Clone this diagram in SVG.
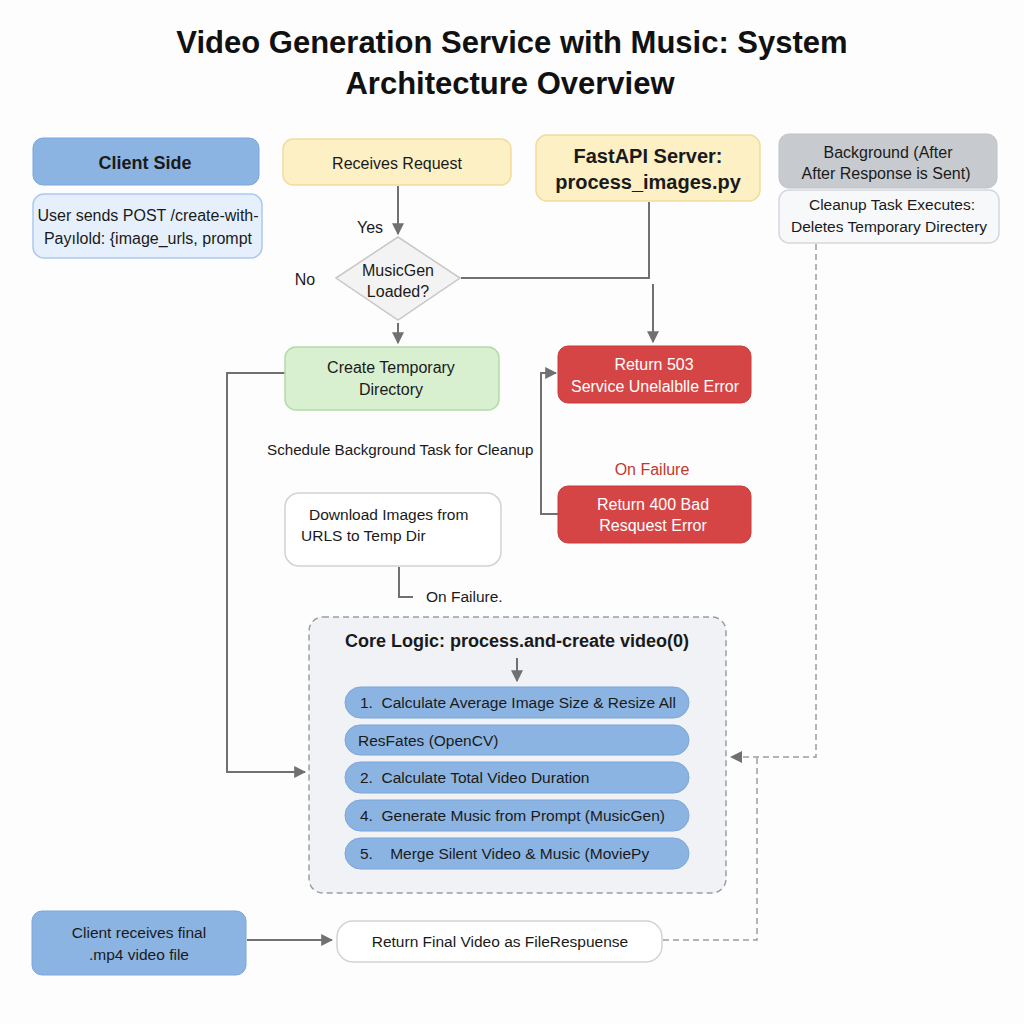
<svg xmlns="http://www.w3.org/2000/svg" width="1024" height="1024" viewBox="0 0 1024 1024">
<defs>
<marker id="ahb" viewBox="0 0 10 10" refX="9" refY="5" markerWidth="12" markerHeight="12" orient="auto" markerUnits="userSpaceOnUse">
<path d="M0,0 L10,5 L0,10 z" fill="#707070"/>
</marker>
</defs>
<style>
text{font-family:"Liberation Sans",Arial,sans-serif;fill:#1a1a1a;}
.title{font-size:31px;font-weight:bold;text-anchor:middle;fill:#111;}
.t{font-size:16px;text-anchor:middle;}
.tl{font-size:15.5px;}
.b{font-weight:bold;}
.w{fill:#fff;}
.blue{fill:#8cb4e2;stroke:#7aa6da;stroke-width:1;}
.lblue{fill:#e6f0fc;stroke:#a9c9f0;stroke-width:1.5;}
.yel{fill:#fdf0c4;stroke:#f2dc9c;stroke-width:1.5;}
.grey{fill:#c7cacf;stroke:#bfc2c7;stroke-width:1;}
.lgrey{fill:#f7f8f9;stroke:#d5d8dc;stroke-width:1.5;}
.green{fill:#d8efd0;stroke:#b3dba8;stroke-width:1.5;}
.red{fill:#d64545;stroke:#c93b3b;stroke-width:1;}
.white{fill:#fff;stroke:#d0d2d5;stroke-width:1.5;}
.ln{fill:none;stroke:#707070;stroke-width:2;}
.dash{fill:none;stroke:#9c9c9c;stroke-width:1.5;stroke-dasharray:6 4;}
</style>
<rect x="0" y="0" width="1024" height="1024" fill="#fdfdfe"/>
<text class="title" x="512" y="53">Video Generation Service with Music: System</text>
<text class="title" x="510" y="94">Architecture Overview</text>

<g id="core-logic">
<rect x="309" y="617" width="417" height="276" rx="14" fill="#f0f2f5" stroke="#9a9ea3" stroke-width="1.5" stroke-dasharray="6 4"/>
<text class="t b" x="517" y="647" style="font-size:18px">Core Logic: process.and-create video(0)</text>
<rect class="blue" x="345" y="687" width="344" height="31" rx="15.5"/>
<text class="tl" x="360" y="708" xml:space="preserve">1.  Calculate Average Image Size &amp; Resize All</text>
<rect class="blue" x="345" y="725" width="344" height="30" rx="15"/>
<text class="tl" x="358" y="746">ResFates (OpenCV)</text>
<rect class="blue" x="345" y="762" width="344" height="31" rx="15.5"/>
<text class="tl" x="360" y="783" xml:space="preserve">2.  Calculate Total Video Duration</text>
<rect class="blue" x="345" y="800" width="344" height="31" rx="15.5"/>
<text class="tl" x="360" y="821" xml:space="preserve">4.  Generate Music from Prompt (MusicGen)</text>
<rect class="blue" x="345" y="838" width="344" height="31" rx="15.5"/>
<text class="tl" x="360" y="859" xml:space="preserve">5.    Merge Silent Video &amp; Music (MoviePy</text>
</g>

<g id="connectors">
<path class="ln" d="M398,186 V234" marker-end="url(#ahb)"/>
<path class="ln" d="M461,278 H649 V202"/>
<path class="ln" d="M653,284 V342" marker-end="url(#ahb)"/>
<path class="ln" d="M398,323 V343" marker-end="url(#ahb)"/>
<path class="ln" d="M558,514 H541 V373 H556" marker-end="url(#ahb)"/>
<path class="ln" d="M399,567 V597 H413"/>
<path class="ln" d="M285,373 H227 V772 H305" marker-end="url(#ahb)"/>
<path class="ln" d="M517,658 V681" stroke-width="1.5" marker-end="url(#ahb)"/>
<path class="dash" d="M816,244 V757 H735"/>
<path d="M730,757 L742,751 L742,763 z" fill="#707070"/>
<path class="dash" d="M663,940 H757 V758"/>
<path class="ln" d="M247,940 H332" marker-end="url(#ahb)"/>
</g>

<g id="client-side">
<rect class="blue" x="33" y="138" width="226" height="47" rx="10"/>
<text class="t b" x="145" y="169" style="font-size:18px">Client Side</text>
</g>
<g id="user-sends">
<rect class="lblue" x="33" y="194" width="229" height="64" rx="11"/>
<text class="t" x="148" y="221">User sends POST /create-with-</text>
<text class="t" x="148" y="244">Payılold: {image_urls, prompt</text>
</g>
<g id="receives-request">
<rect class="yel" x="283" y="139" width="228" height="46" rx="10"/>
<text class="t" x="397" y="169" style="font-weight:500">Receives Request</text>
</g>
<g id="fastapi-server">
<rect class="yel" x="536" y="135" width="224" height="66" rx="11"/>
<text class="t b" x="648" y="163" style="font-size:20px">FastAPI Server:</text>
<text class="t b" x="648" y="189" style="font-size:20px">process_images.py</text>
</g>
<g id="background">
<rect class="grey" x="779" y="134" width="218" height="54" rx="10"/>
<text class="t" x="888" y="158">Background (After</text>
<text class="t" x="886" y="179">After Response is Sent)</text>
</g>
<g id="cleanup-task">
<rect class="lgrey" x="779" y="190" width="220" height="53" rx="10"/>
<text class="t" x="892" y="210" style="font-size:15.5px">Cleanup Task Executes:</text>
<text class="t" x="889" y="232" style="font-size:15.5px">Deletes Temporary Directery</text>
</g>
<g id="yes-label"><text class="t" x="370" y="233">Yes</text></g>
<g id="musicgen-loaded">
<path d="M336,278 L398,237 L460,278 L398,320 z" fill="#f3f3f3" stroke="#c8c8c8" stroke-width="1.5"/>
<text class="t" x="398" y="276">MusicGen</text>
<text class="t" x="398" y="297">Loaded?</text>
</g>
<g id="no-label"><text class="t" x="305" y="285">No</text></g>
<g id="create-temp-dir">
<rect class="green" x="285" y="347" width="214" height="63" rx="11"/>
<text class="t" x="391" y="373">Create Temporary</text>
<text class="t" x="391" y="395">Directory</text>
</g>
<g id="return-503">
<rect class="red" x="558" y="346" width="193" height="57" rx="10"/>
<text class="t w" x="654" y="370">Return 503</text>
<text class="t w" x="655" y="392">Service Unelalblle Error</text>
</g>
<g id="schedule-label"><text class="tl" x="267" y="455" style="font-size:15.2px">Schedule Background Task for Cleanup</text></g>
<g id="on-failure-red"><text class="t" x="652" y="475" style="fill:#c0392b">On Failure</text></g>
<g id="return-400">
<rect class="red" x="558" y="486" width="193" height="57" rx="10"/>
<text class="t w" x="653" y="510">Return 400 Bad</text>
<text class="t w" x="653" y="531">Resquest Error</text>
</g>
<g id="download-images">
<rect class="white" x="285" y="493" width="216" height="73" rx="14"/>
<text class="tl" x="309" y="520">Download Images from</text>
<text class="tl" x="301" y="541">URLS to Temp Dir</text>
</g>
<g id="on-failure-black"><text class="tl" x="426" y="602">On Failure.</text></g>
<g id="client-receives">
<rect class="blue" x="32" y="911" width="214" height="64" rx="10"/>
<text class="t" x="139" y="938" style="font-size:15.5px">Client receives final</text>
<text class="t" x="139" y="960" style="font-size:15.5px">.mp4 video file</text>
</g>
<g id="return-final-video">
<rect class="white" x="337" y="921" width="325" height="41" rx="16"/>
<text class="t" x="500" y="947" style="font-size:15.5px">Return Final Video as FileRespuense</text>
</g>
</svg>
